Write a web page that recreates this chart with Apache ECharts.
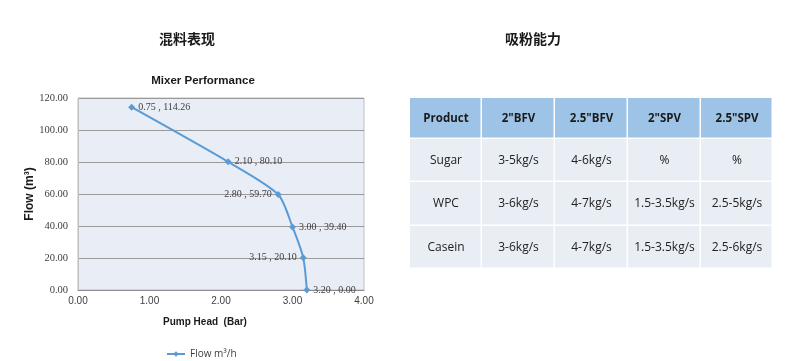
<!DOCTYPE html>
<html>
<head>
<meta charset="utf-8">
<script src="https://cdn.jsdelivr.net/npm/echarts@6/dist/echarts.min.js"></script>
<style>
html,body{margin:0;padding:0;background:#fff;}
#c{width:788px;height:361px;}
</style>
</head>
<body>
<div id="c"></div>
<script>
// ---- data ----
const pumpHead = [0.75, 2.10, 2.80, 3.00, 3.15, 3.20];
const flow = [114.26, 80.10, 59.70, 39.40, 20.10, 0.00];
const seriesName = 'Flow m³/h';
const tableHeader = ['Product', '2"BFV', '2.5"BFV', '2"SPV', '2.5"SPV'];
const tableRows = [
  ['Sugar', '3-5kg/s', '4-6kg/s', '%', '%'],
  ['WPC', '3-6kg/s', '4-7kg/s', '1.5-3.5kg/s', '2.5-5kg/s'],
  ['Casein', '3-6kg/s', '4-7kg/s', '1.5-3.5kg/s', '2.5-6kg/s']
];
const leftTitle = '混料表现';
const rightTitle = '吸粉能力';
const chartTitle = 'Mixer Performance';
const xName = 'Pump Head  (Bar)';
const yName = 'Flow (m³)';

// ---- layout ----
const labelSide = ['right', 'right', 'left', 'right', 'left', 'right'];
const colX = [410, 482, 555, 628, 701, 773];
const rowY = [98, 139, 182, 226, 269];

const graphics = [];
const allRows = [tableHeader].concat(tableRows);
for (let r = 0; r < allRows.length; r++) {
  for (let c = 0; c < tableHeader.length; c++) {
    const x0 = colX[c], x1 = colX[c + 1], y0 = rowY[r], y1 = rowY[r + 1];
    graphics.push({
      type: 'rect',
      shape: { x: x0, y: y0, width: x1 - x0 - 1.5, height: y1 - y0 - 1.5 },
      style: { fill: r === 0 ? '#9dc3e6' : '#e9edf4' },
      silent: true
    });
    graphics.push({
      type: 'text',
      x: (x0 + x1) / 2,
      y: (y0 + y1) / 2,
      style: {
        text: allRows[r][c],
        fill: r === 0 ? '#1a1a1a' : '#222222',
        font: (r === 0 ? 'bold 11.5px ' : '12px ') + '"Open Sans", "Noto Sans", sans-serif',
        align: 'center',
        verticalAlign: 'middle'
      },
      silent: true
    });
  }
}

const chart = echarts.init(document.getElementById('c'), null, { renderer: 'canvas' });
chart.setOption({
  animation: false,
  backgroundColor: '#ffffff',
  title: [
    { text: leftTitle, left: 182, top: 27, textAlign: 'center',
      textStyle: { fontFamily: 'Noto Sans CJK SC', fontWeight: 'bold', fontSize: 14, color: '#1a1a1a' } },
    { text: rightTitle, left: 528, top: 27, textAlign: 'center',
      textStyle: { fontFamily: 'Noto Sans CJK SC', fontWeight: 'bold', fontSize: 14, color: '#1a1a1a' } },
    { text: chartTitle, left: 198, top: 70, textAlign: 'center',
      textStyle: { fontFamily: 'Liberation Sans', fontWeight: 'bold', fontSize: 11.5, color: '#1a1a1a' } }
  ],
  legend: {
    left: 161, top: 344,
    itemWidth: 18, itemHeight: 7, itemGap: 4,
    textStyle: { fontFamily: '"Open Sans", sans-serif', fontSize: 10, color: '#404040' },
    data: [seriesName]
  },
  grid: {
    left: 78, right: 424, top: 98, bottom: 71,
    show: true, backgroundColor: '#e9edf5', borderColor: '#bfbfbf', borderWidth: 1
  },
  xAxis: {
    type: 'value', min: 0, max: 4, interval: 1,
    name: xName, nameLocation: 'middle', nameGap: 27,
    nameTextStyle: { fontFamily: 'Liberation Sans', fontWeight: 'bold', fontSize: 10, color: '#1a1a1a', padding: [0, 32, 0, 0] },
    axisLine: { show: true, lineStyle: { color: '#8c8c8c' } },
    axisTick: { show: false },
    splitLine: { show: false },
    axisLabel: { formatter: v => v.toFixed(2), fontFamily: 'Liberation Sans', fontSize: 10, color: '#404040', margin: 6 }
  },
  yAxis: {
    type: 'value', min: 0, max: 120, interval: 20,
    name: yName, nameLocation: 'middle', nameGap: 38,
    nameTextStyle: { fontFamily: 'Liberation Sans', fontWeight: 'bold', fontSize: 12, color: '#1a1a1a' },
    axisLine: { show: true, lineStyle: { color: '#bfbfbf' } },
    axisTick: { show: false },
    splitLine: { show: true, lineStyle: { color: '#9a9a9a', width: 1 } },
    axisLabel: { formatter: v => v.toFixed(2), fontFamily: 'Liberation Serif', fontSize: 10.5, color: '#404040', margin: 10 }
  },
  series: [{
    name: seriesName,
    type: 'line',
    smooth: 0.25,
    symbol: 'diamond',
    symbolSize: 7,
    color: '#5b9bd5',
    lineStyle: { width: 2, color: '#5b9bd5' },
    data: pumpHead.map((x, i) => ({
      value: [x, flow[i]],
      label: {
        show: true,
        position: labelSide[i],
        distance: 3,
        formatter: x.toFixed(2) + ' , ' + flow[i].toFixed(2),
        fontFamily: 'Liberation Serif', fontSize: 10, color: '#404040'
      }
    }))
  }],
  graphic: graphics
});
</script>
</body>
</html>
